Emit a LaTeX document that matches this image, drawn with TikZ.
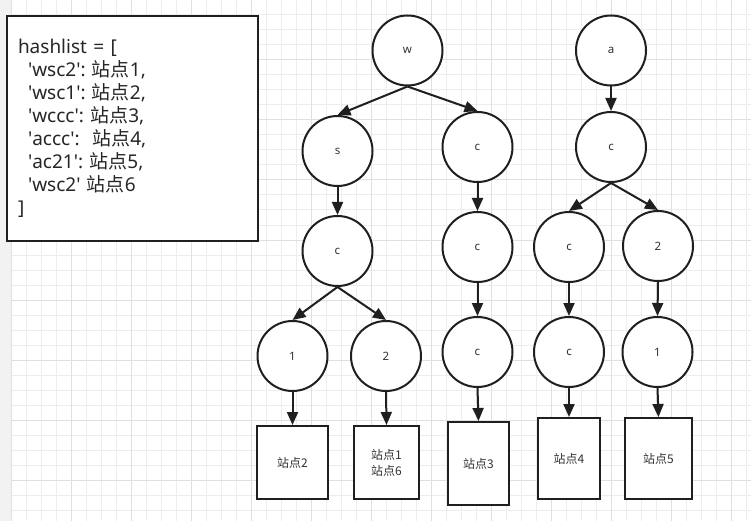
\documentclass[tikz,border=0pt]{standalone}
\usepackage{fontspec}
\setmainfont{Noto Sans}
\newfontfamily\cjk{Noto Sans CJK SC}
\usetikzlibrary{arrows.meta}

\newcommand{\qt}{\textquotesingle}
\frenchspacing

\begin{document}
\begin{tikzpicture}
	[x=1pt, y=1pt,
		trie/.style		={circle
							, draw=black!88
							, line width=2pt
							, fill=white
							, minimum size=70pt
							, inner sep=0pt
							, text=black!80
							, font=\fontsize{11.5}{13}\selectfont
							},
		site/.style		={rectangle
							, draw=black!88
							, line width=2pt
							, fill=white
							, align=center
							, inner sep=0pt
							, text=black!80
							, font=\cjk\fontsize{12}{16}\selectfont
							},
		listbox/.style	={rectangle
							, draw=black!88
							, line width=2pt
							, fill=white
							, minimum height=225pt
							, text width=229pt
							, inner xsep=11pt
							, align=left
							, text=black!85
							, font=\fontsize{19}{23}\selectfont
							},
		line/.style		={draw=black!88
							, line width=2pt
							, -{Triangle[length=13pt, width=11pt]}
							}
	]
% background grid
\useasboundingbox (0,0) rectangle (751,-521);
\fill[white] (0,0) rectangle (751,-521);
\fill[black!5] (0,0) rectangle (11.5,-521);
\foreach \x in {26.5,41.5,...,746.5}
	\draw[black!7, line width=1pt] (\x,0) -- (\x,-521);
\foreach \y in {15,30,...,510}
	\draw[black!7, line width=1pt] (11.5,-\y) -- (751,-\y);
\foreach \x in {11.5,71.5,...,731.5}
	\draw[black!12, line width=1pt] (\x,0) -- (\x,-521);
\foreach \y in {60,120,...,480}
	\draw[black!12, line width=1pt] (11.5,-\y) -- (751,-\y);

% hash list
\node [listbox] (hashlist) at (132.5,-128.5)
	{hashlist = [\\
	\hspace*{10pt}\qt wsc2\qt: {\cjk 站点}1,\\
	\hspace*{10pt}\qt wsc1\qt: {\cjk 站点}2,\\
	\hspace*{10pt}\qt wccc\qt: {\cjk 站点}3,\\
	\hspace*{10pt}\qt accc\qt:~~{\cjk 站点}4,\\
	\hspace*{10pt}\qt ac21\qt: {\cjk 站点}5,\\
	\hspace*{10pt}\qt wsc2\qt{} {\cjk 站点}6\\
	]};

% level 1
\node [trie] (w)		at (407.5,-50.5)	{w};
\node [trie] (a)		at (611,-50.5)		{a};
% level 2
\node [trie] (ws)		at (337.5,-151)		{s};
\node [trie] (wc)		at (477.5,-147)		{c};
\node [trie] (ac)		at (611,-147)		{c};
% level 3
\node [trie] (wsc)		at (337.5,-251)		{c};
\node [trie] (wcc)		at (477.5,-247)		{c};
\node [trie] (acc)		at (569,-247)		{c};
\node [trie] (ac2)		at (658,-246)		{2};
% level 4
\node [trie] (wsc1)		at (292.5,-356)		{1};
\node [trie] (wsc2)		at (386,-356)		{2};
\node [trie] (wccc)		at (477.5,-352)		{c};
\node [trie] (accc)		at (569,-352)		{c};
\node [trie] (ac21)		at (657.5,-352)		{1};
% sites
\node [site, minimum width=71pt, minimum height=73pt] (site 2)	at (292.5,-462.5)	{站点2};
\node [site, minimum width=65pt, minimum height=73pt] (site 16)	at (386.5,-462.5)	{站点1\\站点6};
\node [site, minimum width=61pt, minimum height=83pt] (site 3)	at (478.5,-463.5)	{站点3};
\node [site, minimum width=62pt, minimum height=81pt] (site 4)	at (569,-458.5)		{站点4};
\node [site, minimum width=67pt, minimum height=81pt] (site 5)	at (658.5,-458.5)	{站点5};

% edges
\draw	[line]	(w.south)		-- (ws.north);
\draw	[line]	(w.south)		-- (wc.north);
\draw	[line]	(ws.south)		-- (wsc.north);
\draw	[line]	(wsc.south)		-- (wsc1.north);
\draw	[line]	(wsc.south)		-- (wsc2.north);
\draw	[line]	(wc.south)		-- (wcc.north);
\draw	[line]	(wcc.south)		-- (wccc.north);
\draw	[line]	(a.south)		-- (ac.north);
\draw	[line]	(ac.south)		-- (acc.north);
\draw	[line]	(ac.south)		-- (ac2.north);
\draw	[line]	(acc.south)		-- (accc.north);
\draw	[line]	(ac2.south)		-- (ac21.north);
\draw	[line]	(wsc1.south)	-- (site 2.north);
\draw	[line]	(wsc2.south)	-- (site 16.north);
\draw	[line]	(wccc.south)	-- (site 3.north);
\draw	[line]	(accc.south)	-- (site 4.north);
\draw	[line]	(ac21.south)	-- (site 5.north);
\end{tikzpicture}
\end{document}
